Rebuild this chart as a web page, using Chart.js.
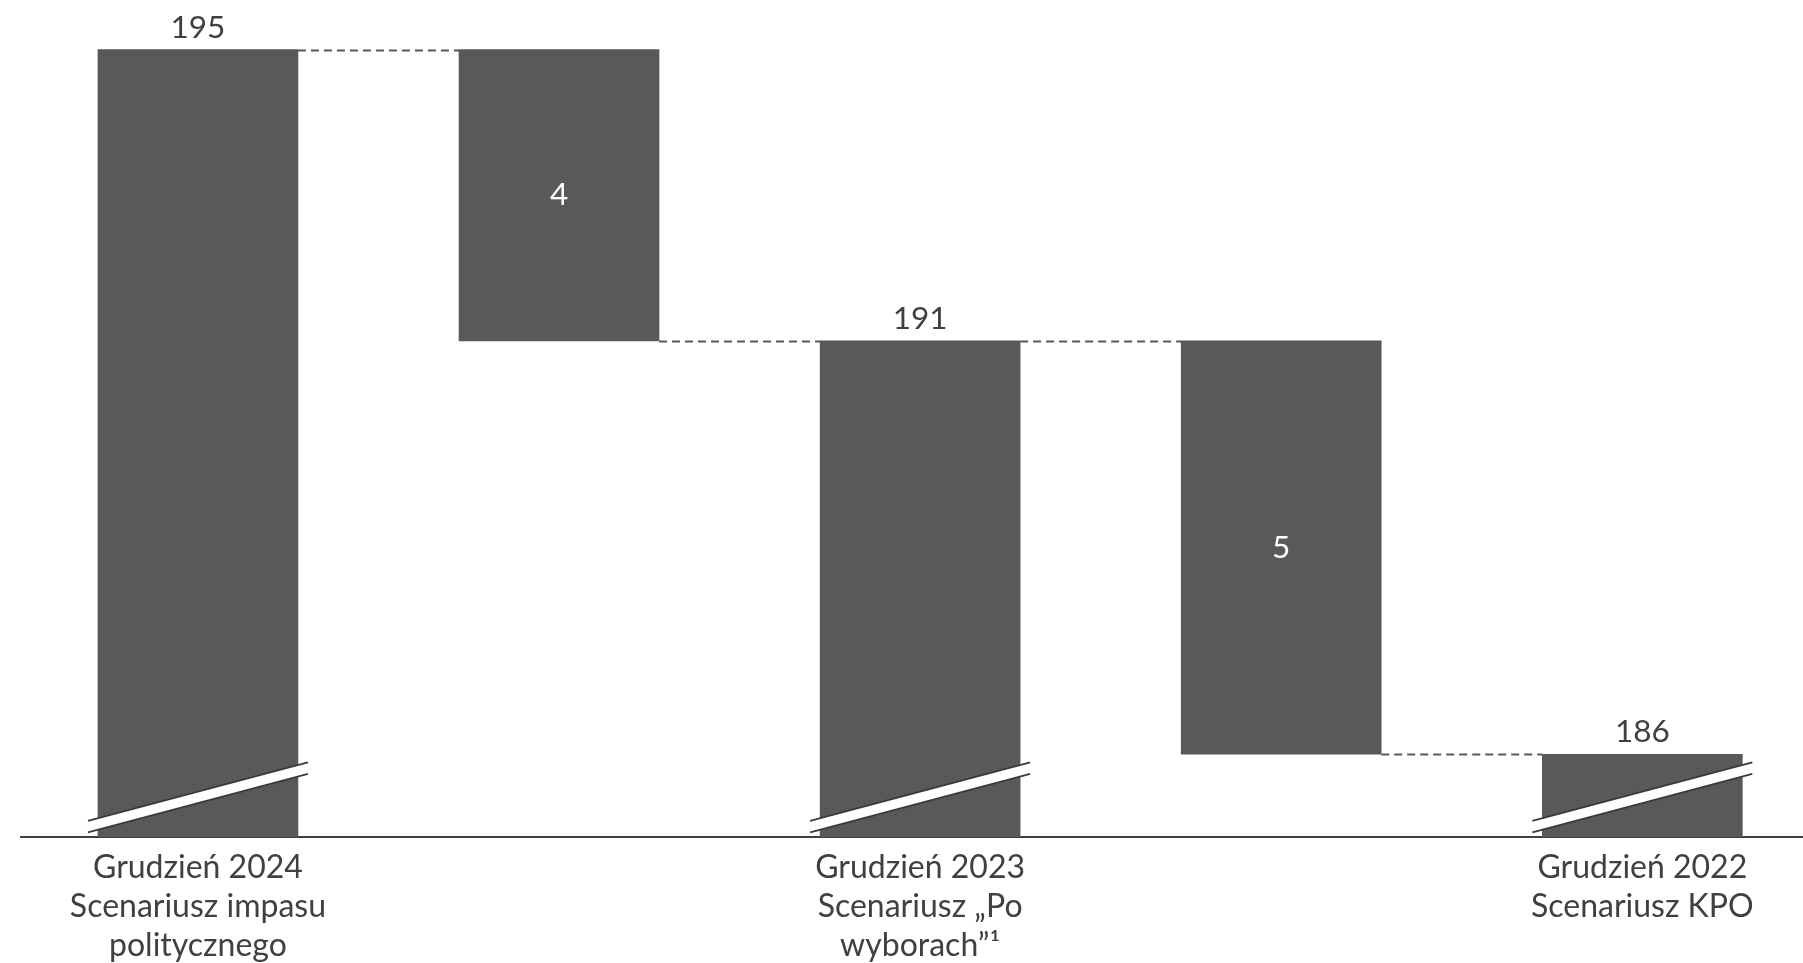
<!DOCTYPE html>
<html>
<head>
<meta charset="utf-8">
<script src="https://cdn.jsdelivr.net/npm/chart.js@4/dist/chart.umd.min.js"></script>
<style>
  html, body { margin: 0; padding: 0; background: #ffffff; }
  #wrap { width: 1803px; height: 963px; }
</style>
</head>
<body>
<div id="wrap"><canvas id="waterfall"></canvas></div>
<script>
// Totals of the three scenarios (left to right)
const totals = [195.0, 191.3, 186.05];

// Axis labels under the total bars, one array entry per line
const categories = [
    ['Grudzień 2024', 'Scenariusz impasu', 'politycznego'],
    ['Grudzień 2023', 'Scenariusz \u201ePo', 'wyborach\u201d\u00b9'],
    ['Grudzień 2022', 'Scenariusz KPO']
];

// Broken axis starts here
const axisFloor = 185;
const axisTop = 195.63;

const barColor = '#595959';
const textColor = '#404040';
const fontFamily = 'Lato, "Open Sans", sans-serif';

// Build the floating bars: total, drop, total, drop, total
const bars = [];
const barKinds = [];
const barLabels = [];
const tickPositions = [];
totals.forEach((t, i) => {
    tickPositions.push(bars.length);
    bars.push({ x: bars.length, y: [axisFloor, t] });
    barKinds.push('total');
    barLabels.push(String(Math.round(t)));
    if (i < totals.length - 1) {
        const next = totals[i + 1];
        bars.push({ x: bars.length, y: [next, t] });
        barKinds.push('change');
        barLabels.push(String(Math.round(t - next)));
    }
});

// Level where each bar ends, used for the dashed connectors
function endLevel(i) {
    const v = bars[i].y;
    return barKinds[i] === 'total' ? v[1] : v[0];
}

const waterfallDecor = {
    id: 'waterfallDecor',
    afterDatasetsDraw(chart) {
        const ctx = chart.ctx;
        const meta = chart.getDatasetMeta(0);
        const yScale = chart.scales.y;
        const axisY = chart.chartArea.bottom + 1;

        ctx.save();

        // dashed connectors between bars
        ctx.strokeStyle = '#595959';
        ctx.lineWidth = 2;
        ctx.setLineDash([8, 5]);
        for (let i = 0; i < meta.data.length - 1; i++) {
            const a = meta.data[i];
            const b = meta.data[i + 1];
            const y = Math.round(yScale.getPixelForValue(endLevel(i))) + 0.5;
            ctx.beginPath();
            ctx.moveTo(a.x + a.width / 2, y);
            ctx.lineTo(b.x - b.width / 2, y);
            ctx.stroke();
        }
        ctx.setLineDash([]);

        // axis break marks on total bars
        meta.data.forEach((el, i) => {
            if (barKinds[i] !== 'total') return;
            const x0 = el.x - el.width / 2 - 10;
            const x1 = el.x + el.width / 2 + 10;
            const lowL = axisY - 5.5, lowR = axisY - 64;
            const gap = 11.5;
            ctx.fillStyle = '#ffffff';
            ctx.beginPath();
            ctx.moveTo(x0, lowL);
            ctx.lineTo(x1, lowR);
            ctx.lineTo(x1, lowR - gap);
            ctx.lineTo(x0, lowL - gap);
            ctx.closePath();
            ctx.fill();
            ctx.strokeStyle = '#3a3a3a';
            ctx.lineWidth = 1.6;
            ctx.beginPath();
            ctx.moveTo(x0, lowL);
            ctx.lineTo(x1, lowR);
            ctx.moveTo(x0, lowL - gap);
            ctx.lineTo(x1, lowR - gap);
            ctx.stroke();
        });

        // value labels
        ctx.font = '31.5px ' + fontFamily;
        ctx.textAlign = 'center';
        meta.data.forEach((el, i) => {
            if (barKinds[i] === 'total') {
                ctx.fillStyle = textColor;
                ctx.textBaseline = 'alphabetic';
                ctx.fillText(barLabels[i], el.x, el.y - 12);
            } else {
                ctx.fillStyle = '#ffffff';
                ctx.textBaseline = 'middle';
                ctx.fillText(barLabels[i], el.x, (el.y + el.base) / 2);
            }
        });

        ctx.restore();
    }
};

new Chart(document.getElementById('waterfall'), {
    type: 'bar',
    data: {
        datasets: [{
            data: bars,
            backgroundColor: barColor,
            borderWidth: 0,
            barThickness: 200
        }]
    },
    options: {
        responsive: true,
        maintainAspectRatio: false,
        animation: false,
        layout: { padding: { left: 21, right: 0, top: 0, bottom: -13 } },
        plugins: {
            legend: { display: false },
            tooltip: { enabled: false }
        },
        scales: {
            x: {
                type: 'linear',
                offset: false,
                min: -0.49,
                max: 4.445,
                grid: { display: false, drawTicks: false, offset: false },
                border: { display: true, color: '#404040', width: 2 },
                afterBuildTicks: (scale) => {
                    scale.ticks = tickPositions.map(v => ({ value: v }));
                },
                ticks: {
                    autoSkip: false,
                    maxRotation: 0,
                    padding: 11,
                    color: textColor,
                    font: { family: fontFamily, size: 32, lineHeight: 1.22 },
                    callback: (value) => {
                        const k = tickPositions.indexOf(value);
                        return k >= 0 ? categories[k] : '';
                    }
                }
            },
            y: {
                display: false,
                min: axisFloor,
                max: axisTop
            }
        }
    },
    plugins: [waterfallDecor]
});
</script>
</body>
</html>
